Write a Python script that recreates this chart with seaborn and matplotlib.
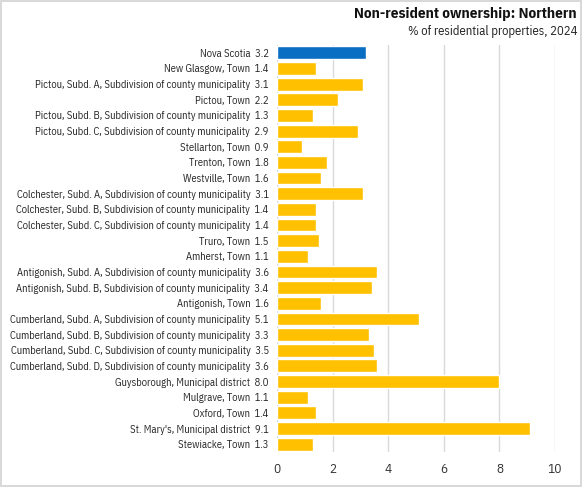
import matplotlib
matplotlib.use("Agg")
import matplotlib.pyplot as plt
import seaborn as sns
import pandas as pd

names = [
    "Nova Scotia",
    "New Glasgow, Town",
    "Pictou, Subd. A, Subdivision of county municipality",
    "Pictou, Town",
    "Pictou, Subd. B, Subdivision of county municipality",
    "Pictou, Subd. C, Subdivision of county municipality",
    "Stellarton, Town",
    "Trenton, Town",
    "Westville, Town",
    "Colchester, Subd. A, Subdivision of county municipality",
    "Colchester, Subd. B, Subdivision of county municipality",
    "Colchester, Subd. C, Subdivision of county municipality",
    "Truro, Town",
    "Amherst, Town",
    "Antigonish, Subd. A, Subdivision of county municipality",
    "Antigonish, Subd. B, Subdivision of county municipality",
    "Antigonish, Town",
    "Cumberland, Subd. A, Subdivision of county municipality",
    "Cumberland, Subd. B, Subdivision of county municipality",
    "Cumberland, Subd. C, Subdivision of county municipality",
    "Cumberland, Subd. D, Subdivision of county municipality",
    "Guysborough, Municipal district",
    "Mulgrave, Town",
    "Oxford, Town",
    "St. Mary's, Municipal district",
    "Stewiacke, Town",
]
values = [3.2, 1.4, 3.1, 2.2, 1.3, 2.9, 0.9, 1.8, 1.6, 3.1, 1.4, 1.4, 1.5, 1.1,
          3.6, 3.4, 1.6, 5.1, 3.3, 3.5, 3.6, 8.0, 1.1, 1.4, 9.1, 1.3]
x_ticks = [0, 2, 4, 6, 8, 10]
title = "Non-resident ownership: Northern"
subtitle = "% of residential properties, 2024"

labels = [f"{n}  {v:.1f}" for n, v in zip(names, values)]
colors = ["#0A6EC2"] + ["#FFC000"] * (len(values) - 1)
df = pd.DataFrame({"label": labels, "value": values})

sns.set_theme(style="white")
plt.rcParams["font.family"] = ["IBM Plex Sans Condensed", "DejaVu Sans"]

fig = plt.figure(figsize=(5.82, 4.87), dpi=100)
fig.patch.set_edgecolor("#D9D9D9")
fig.patch.set_linewidth(1.5)
ax = fig.add_axes([277/582, 1 - 452/487, (555 - 277)/582, (452 - 45)/487])

sns.barplot(data=df, x="value", y="label", hue="label", palette=colors,
            legend=False, width=0.82, ax=ax, orient="h", saturation=1)

ax.set_xlim(0, 10)
ax.set_xticks(x_ticks)
ax.set_xticklabels([str(t) for t in x_ticks])
ax.set_xlabel("")
ax.set_ylabel("")
ax.xaxis.grid(True, color="#D9D9D9", linewidth=1)
ax.set_axisbelow(True)
for s in ax.spines.values():
    s.set_visible(False)
ax.tick_params(axis="y", length=0, pad=6, labelsize=7.6, colors="#222222")
ax.tick_params(axis="x", length=0, pad=8, labelsize=9.5, colors="#333333")

fig.text(577/582, 1 - 14/487, title, ha="right", va="center",
         fontsize=11.0, fontweight="bold", color="#111111")
fig.text(577/582, 1 - 32/487, subtitle, ha="right", va="center",
         fontsize=9.1, color="#222222")

fig.savefig("out.png", dpi=100)
